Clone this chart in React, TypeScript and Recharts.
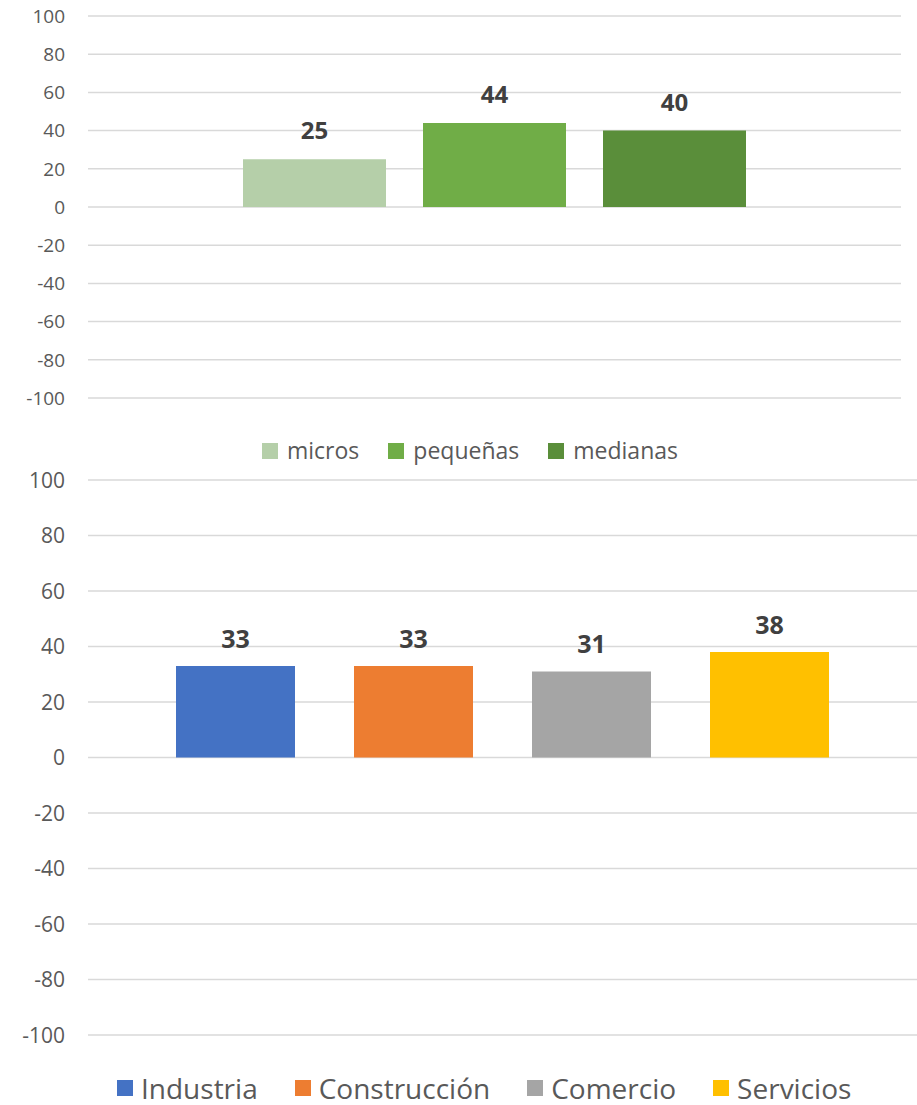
import { BarChart, Bar, XAxis, YAxis, CartesianGrid, Legend, LabelList } from 'recharts'

// eje vertical compartido por los dos gráficos
const yTicks = [100, 80, 60, 40, 20, 0, -20, -40, -60, -80, -100]

// por tamaño de empresa
const sizeSeries = ['micros', 'pequeñas', 'medianas']
const sizeValues = [25, 44, 40]
const sizeColors = ['#b5cfa9', '#70ad47', '#5a8e3a']

// por sector
const sectorSeries = ['Industria', 'Construcción', 'Comercio', 'Servicios']
const sectorValues = [33, 33, 31, 38]
const sectorColors = ['#4472c4', '#ed7d31', '#a5a5a5', '#ffc000']

const FONT = "'Open Sans', sans-serif"

const toRow = (keys: string[], vals: number[]) => {
  const row: Record<string, number | string> = { name: 'total' }
  keys.forEach((k, i) => { row[k] = vals[i] })
  return [row]
}

const sizeData = toRow(sizeSeries, sizeValues)
const sectorData = toRow(sectorSeries, sectorValues)

function makeTick(fontSize: number) {
  return (props: any) => {
    const { x, y, payload } = props
    return (
      <text x={x} y={y} textAnchor="end" dy="0.36em" fontSize={fontSize} fill="#595959" fontFamily={FONT}>
        {payload.value}
      </text>
    )
  }
}

function makeLabel(fontSize: number, gap: number) {
  return (props: any) => {
    const { x, y, width, value } = props
    return (
      <text x={x + width / 2} y={y - gap} textAnchor="middle"
        fontSize={fontSize} fontWeight="bold" fill="#404040" fontFamily={FONT}>
        {value}
      </text>
    )
  }
}

function makeLegend(names: string[], colors: string[], fontSize: number, itemGap: number, textGap: number) {
  return () => (
    <div style={{
      display: 'flex', alignItems: 'center', fontFamily: FONT, fontSize, lineHeight: 1.1, color: '#595959',
      whiteSpace: 'nowrap', width: 'max-content',
    }}>
      {names.map((n, i) => (
        <div key={n} style={{ display: 'flex', alignItems: 'center', flexShrink: 0, marginRight: i < names.length - 1 ? itemGap : 0 }}>
          <span style={{ width: 16, height: 16, background: colors[i], display: 'inline-block', marginRight: textGap }} />
          <span>{n}</span>
        </div>
      ))}
    </div>
  )
}

export default function App() {
  return (
    <div style={{ position: 'absolute', left: 0, top: 0, width: 917, height: 1105, background: '#fff' }}>
      <div style={{ position: 'absolute', left: 0, top: 0 }}>
        <BarChart width={917} height={465} data={sizeData} barGap={37} margin={{ top: 16, right: 16, left: 0, bottom: 67 }}>
          <CartesianGrid vertical={false} stroke="#d9d9d9" strokeWidth={1.5} />
          <XAxis dataKey="name" hide />
          <YAxis domain={[-100, 100]} ticks={yTicks} width={88} axisLine={false} tickLine={false}
            tickMargin={17} interval={0} tick={makeTick(19)} />
          <Legend layout="horizontal" verticalAlign="middle" align="center"
            wrapperStyle={{ top: 438, left: 262, width: 'max-content' }}
            content={makeLegend(sizeSeries, sizeColors, 23, 29, 9)} />
          {sizeSeries.map((s, i) => (
            <Bar key={s} dataKey={s} fill={sizeColors[i]} barSize={143} isAnimationActive={false}>
              <LabelList dataKey={s} content={makeLabel(24, 20)} />
            </Bar>
          ))}
        </BarChart>
      </div>
      <div style={{ position: 'absolute', left: 0, top: 465 }}>
        <BarChart width={917} height={640} data={sectorData} barGap={59} margin={{ top: 15, right: 0, left: 0, bottom: 70 }}>
          <CartesianGrid vertical={false} stroke="#d9d9d9" strokeWidth={1.5} />
          <XAxis dataKey="name" hide />
          <YAxis domain={[-100, 100]} ticks={yTicks} width={88} axisLine={false} tickLine={false}
            tickMargin={17} interval={0} tick={makeTick(21)} />
          <Legend layout="horizontal" verticalAlign="middle" align="center"
            wrapperStyle={{ top: 608, left: 117, width: 'max-content' }}
            content={makeLegend(sectorSeries, sectorColors, 28, 37, 8)} />
          {sectorSeries.map((s, i) => (
            <Bar key={s} dataKey={s} fill={sectorColors[i]} barSize={119} isAnimationActive={false}>
              <LabelList dataKey={s} content={makeLabel(25, 18)} />
            </Bar>
          ))}
        </BarChart>
      </div>
    </div>
  )
}
